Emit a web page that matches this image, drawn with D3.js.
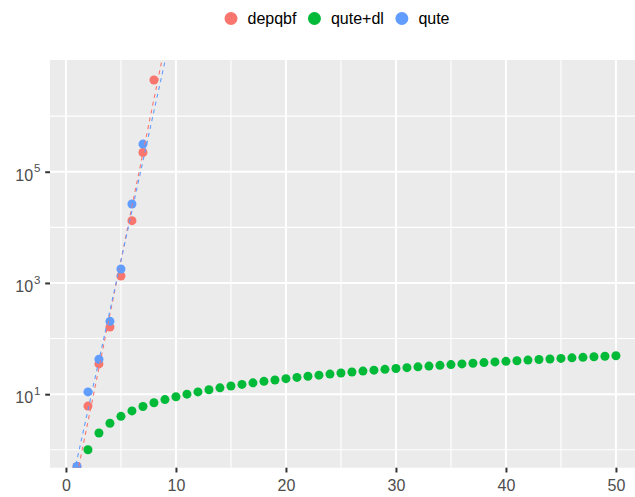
<!DOCTYPE html>
<html><head><meta charset="utf-8">
<script src="https://cdn.jsdelivr.net/npm/d3@7/dist/d3.min.js"></script>
<style>body{margin:0;background:#fff} text{font-family:"Liberation Sans",Arial,Helvetica,sans-serif}</style>
</head><body><svg id="c" width="635" height="497"></svg>
<script>
// ---- data ----
const seriesNames = ["depqbf", "qute+dl", "qute"];
const seriesColors = ["#F8766D", "#00BA38", "#619CFF"];
const depqbfX = [1, 2, 3, 4, 5, 6, 7, 8];
const depqbfY = [0.5, 6.1, 35, 161, 1336, 13200, 222000, 4470000];
const quteX = [1, 2, 3, 4, 5, 6, 7];
const quteY = [0.5, 11, 42.5, 204, 1780, 26300, 314000];
const quteDlX = [2,3,4,5,6,7,8,9,10,11,12,13,14,15,16,17,18,19,20,21,22,23,24,25,26,27,28,29,30,31,32,33,34,35,36,37,38,39,40,41,42,43,44,45,46,47,48,49,50];
const quteDlY = [1,2,3,4,5,6,7,8,9,10,11,12,13,14,15,16,17,18,19,20,21,22,23,24,25,26,27,28,29,30,31,32,33,34,35,36,37,38,39,40,41,42,43,44,45,46,47,48,49];
// dashed trend lines (log10 y = intercept + slope * x)
const trendSeries = ["depqbf", "qute"];
const trendSlope = [0.967, 0.896];
const trendIntercept = [-1.429, -1.079];
const xTicks = [0, 10, 20, 30, 40, 50];
const xMinor = [5, 15, 25, 35, 45, 55];
const yExps = [1, 3, 5];
const yMinorExps = [0, 2, 4, 6];

// ---- layout ----
const pL = 50, pT = 60, pB = 467.7, pR = 50 + 53.9 * 11;
const svg = d3.select("#c");
const x = d3.scaleLinear().domain([-1.45, 52.45]).range([pL, pR]);
const y = d3.scaleLog().domain([Math.pow(10, -0.322), Math.pow(10, 7.009)]).range([pB, pT]);

svg.append("defs").append("clipPath").attr("id", "pc")
  .append("rect").attr("x", pL).attr("y", pT).attr("width", pR - pL).attr("height", pB - pT);

svg.append("rect").attr("x", pL).attr("y", pT).attr("width", pR - pL).attr("height", pB - pT).attr("fill", "#EBEBEB");

const grid = svg.append("g").attr("clip-path", "url(#pc)");
grid.selectAll(".ymn").data(yMinorExps).join("line")
  .attr("x1", pL).attr("x2", pR).attr("y1", d => y(Math.pow(10, d))).attr("y2", d => y(Math.pow(10, d)))
  .attr("stroke", "#fff").attr("stroke-width", 1.1);
grid.selectAll(".xmn").data(xMinor).join("line")
  .attr("y1", pT).attr("y2", pB).attr("x1", d => x(d)).attr("x2", d => x(d))
  .attr("stroke", "#fff").attr("stroke-width", 1.1);
grid.selectAll(".ymj").data(yExps).join("line")
  .attr("x1", pL).attr("x2", pR).attr("y1", d => y(Math.pow(10, d))).attr("y2", d => y(Math.pow(10, d)))
  .attr("stroke", "#fff").attr("stroke-width", 2);
grid.selectAll(".xmj").data(xTicks).join("line")
  .attr("y1", pT).attr("y2", pB).attr("x1", d => x(d)).attr("x2", d => x(d))
  .attr("stroke", "#fff").attr("stroke-width", 2);

// ---- axes ----
const xAxis = svg.append("g").attr("transform", `translate(0,${pB})`)
  .call(d3.axisBottom(x).tickValues(xTicks).tickSize(4.8).tickPadding(7).tickFormat(d3.format("d")));
xAxis.select(".domain").remove();
xAxis.selectAll("line").attr("stroke", "#333333").attr("stroke-width", 2);
xAxis.selectAll("text").attr("fill", "#4D4D4D").attr("font-size", 16)
  .attr("font-family", '"Liberation Sans",Arial,sans-serif');

const yAxis = svg.append("g").attr("transform", `translate(${pL},0)`)
  .call(d3.axisLeft(y).tickValues(yExps.map(e => Math.pow(10, e))).tickSize(4.8).tickFormat(""));
yAxis.select(".domain").remove();
yAxis.selectAll("line").attr("stroke", "#333333").attr("stroke-width", 2);
yAxis.selectAll("text").remove();
const yl = svg.append("g").selectAll("text").data(yExps).join("text")
  .attr("x", 40.5).attr("y", d => y(Math.pow(10, d)) + 9)
  .attr("text-anchor", "end").attr("fill", "#4D4D4D").attr("font-size", 16);
yl.append("tspan").text("10");
yl.append("tspan").attr("font-size", 11.5).attr("dy", -8.3).attr("dx", 1).text(d => d);

// ---- marks ----
const series = [
  { name: seriesNames[0], color: seriesColors[0], xs: depqbfX, ys: depqbfY },
  { name: seriesNames[1], color: seriesColors[1], xs: quteDlX, ys: quteDlY },
  { name: seriesNames[2], color: seriesColors[2], xs: quteX, ys: quteY }
];
const plot = svg.append("g").attr("clip-path", "url(#pc)");
series.forEach(s => {
  plot.append("g").selectAll("circle").data(s.xs.map((v, i) => [v, s.ys[i]])).join("circle")
    .attr("cx", d => x(d[0])).attr("cy", d => y(d[1])).attr("r", 4.5).attr("fill", s.color);
});
trendSeries.forEach((name, k) => {
  const color = seriesColors[seriesNames.indexOf(name)];
  const a = trendIntercept[k], b = trendSlope[k];
  const xs = d3.range(-1.45, 12, 0.05);
  plot.append("path")
    .datum(xs.map(v => [v, Math.pow(10, a + b * v)]))
    .attr("d", d3.line().x(d => x(d[0])).y(d => y(d[1])))
    .attr("fill", "none").attr("stroke", color).attr("stroke-width", 1.1)
    .attr("stroke-dasharray", "4,4");
});

// ---- legend ----
const lg = svg.append("g");
let cx = 231;
series.forEach(s => {
  lg.append("circle").attr("cx", cx).attr("cy", 18.5).attr("r", 6.5).attr("fill", s.color);
  const t = lg.append("text").attr("x", cx + 16.5).attr("y", 24).attr("font-size", 16)
    .attr("fill", "#000").text(s.name);
  cx = cx + 16.5 + t.node().getComputedTextLength() + 18;
});
</script></body></html>
